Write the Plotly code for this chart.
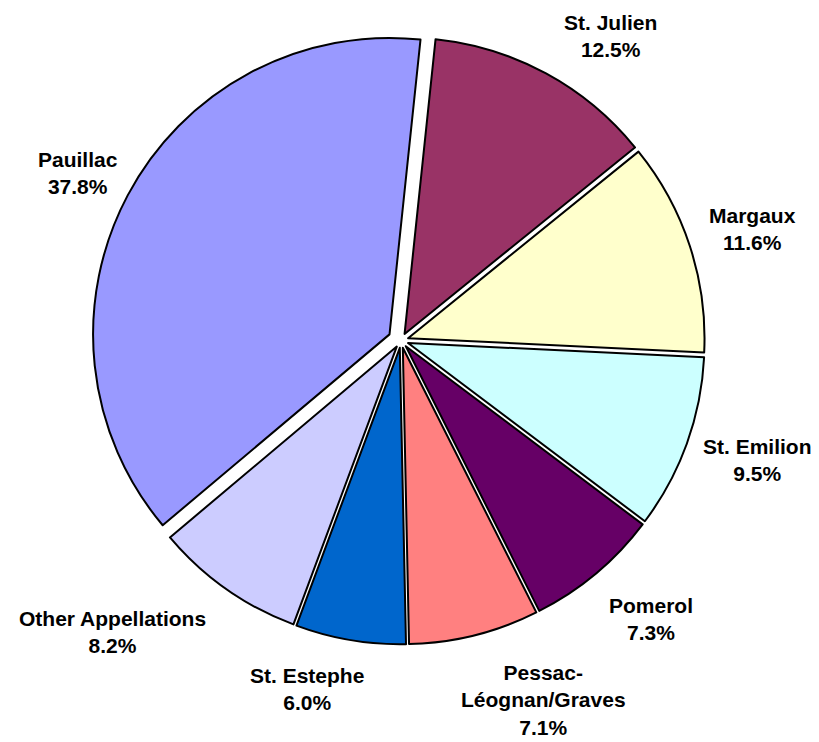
import plotly.graph_objects as go

# ---- data ----
categories = ["St. Julien", "Margaux", "St. Emilion", "Pomerol", "Pessac-Léognan/Graves",
              "St. Estephe", "Other Appellations", "Pauillac"]
label_text = ["St. Julien", "Margaux", "St. Emilion", "Pomerol", "Pessac-<br>Léognan/Graves",
              "St. Estephe", "Other Appellations", "Pauillac"]
shares = [12.5, 11.6, 9.5, 7.3, 7.1, 6.0, 8.2, 37.8]

# ---- style ----
colors = ["#993366", "#FFFFCC", "#CCFFFF", "#660066", "#FF8080", "#0066CC", "#CCCCFF", "#9999FF"]
pulls = [0.025, 0.025, 0.025, 0.025, 0.025, 0.025, 0.025, 0.044]

W, H = 819, 742
PAGE_OFFSET = 8  # default body margin of the html page
# label centres in page pixels (placement of the data labels around the pie)
label_centers_px = [(610, 36), (752, 229), (757, 460), (651, 619), (543, 700),
                    (307, 689), (112, 632), (78, 173)]

fig = go.Figure(go.Pie(
    labels=categories,
    values=shares,
    sort=False,
    direction="clockwise",
    rotation=6,
    pull=pulls,
    marker=dict(colors=colors, line=dict(color="black", width=2)),
    textinfo="none",
    showlegend=False,
    hoverinfo="skip",
    domain=dict(x=[0.1020, 0.8578], y=[0.1348, 0.9690]),
))

tot = sum(shares)
for name, v, (px, py) in zip(label_text, shares, label_centers_px):
    fig.add_annotation(
        x=(px - PAGE_OFFSET) / W, y=1 - (py - PAGE_OFFSET) / H,
        xref="paper", yref="paper",
        xanchor="center", yanchor="middle", align="center",
        text=f"<b>{name}<br>{100 * v / tot:.1f}%</b>",
        showarrow=False,
        font=dict(family="Liberation Sans, Arial, sans-serif", size=21, color="black"),
    )

fig.update_layout(
    width=W, height=H,
    margin=dict(l=0, r=0, t=0, b=0),
    paper_bgcolor="white",
    plot_bgcolor="white",
)

fig.write_html("out.html")
